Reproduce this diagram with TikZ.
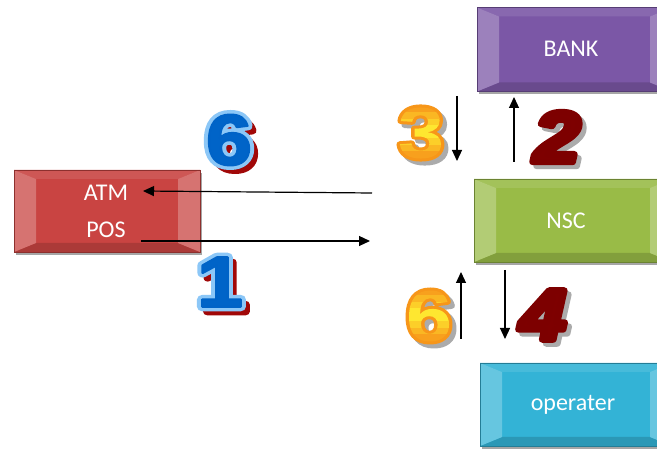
\documentclass[tikz,border=0pt]{standalone}
\usepackage{fontspec}
\setmainfont{Carlito}
\newfontfamily\numfont{Liberation Sans}
\usetikzlibrary{arrows.meta,shadows}
\definecolor{boxred}{HTML}{C94442}
\definecolor{boxpurple}{HTML}{7B57A6}
\definecolor{boxgreen}{HTML}{99BB47}
\definecolor{boxcyan}{HTML}{33B3D6}
\definecolor{nblue}{HTML}{0064C8}
\definecolor{lblue}{HTML}{8CC8F8}
\definecolor{shred}{HTML}{A00808}
\definecolor{dred}{HTML}{7E0000}
\definecolor{norange}{HTML}{F7961A}
\definecolor{shgray}{HTML}{ABABAB}
\tikzset{
  bevelbox/.style={rectangle, fill=#1, draw=#1!70!black, line width=0.6pt, inner sep=0pt,
    drop shadow={shadow xshift=2pt, shadow yshift=-3pt, opacity=0.35, fill=black},
    path picture={
      \fill[#1!90!white] (path picture bounding box.north west) -- (path picture bounding box.north east)
        -- ([xshift=-22pt,yshift=-9pt]path picture bounding box.north east)
        -- ([xshift=22pt,yshift=-9pt]path picture bounding box.north west) -- cycle;
      \fill[#1!85!black] (path picture bounding box.south west) -- (path picture bounding box.south east)
        -- ([xshift=-22pt,yshift=9pt]path picture bounding box.south east)
        -- ([xshift=22pt,yshift=9pt]path picture bounding box.south west) -- cycle;
      \fill[#1!75!white] (path picture bounding box.north west)
        -- ([xshift=22pt,yshift=-9pt]path picture bounding box.north west)
        -- ([xshift=22pt,yshift=9pt]path picture bounding box.south west)
        -- (path picture bounding box.south west) -- cycle;
      \fill[#1!75!white] (path picture bounding box.north east)
        -- ([xshift=-22pt,yshift=-9pt]path picture bounding box.north east)
        -- ([xshift=-22pt,yshift=9pt]path picture bounding box.south east)
        -- (path picture bounding box.south east) -- cycle;
    }},
  boxtxt/.style={text=white, font=\fontsize{24}{24}\selectfont, inner sep=0pt},
  numtxt/.style={font=\numfont\bfseries\fontsize{72}{72}\selectfont, inner sep=0pt},
  numital/.style={font=\numfont\bfseries\itshape\fontsize{72}{72}\selectfont, inner sep=0pt},
  arr/.style={line width=1.2pt, -{Triangle[length=11pt,width=10pt]}},
}
% #1 text, #2 stroke width, #3 stroke colour (rgb triple)
\newcommand\heavytxt[3]{\special{pdf:literal direct q 2 Tr #2 w 1 j #3 RG}\scalebox{1.15}[1]{#1}\special{pdf:literal direct Q}}
% glyph used as a clip, filled with orange-yellow-orange bands
\newcommand\gradtxt[1]{\scalebox{1.15}[1]{\special{pdf:literal direct q 7 Tr}#1\special{pdf:literal
 0.974 0.626 0.112 rg -46 -2 50 8.5 re f
 0.981 0.719 0.138 rg -46 6.5 50 6.6 re f
 0.989 0.811 0.162 rg -46 13 50 6.6 re f
 0.996 0.904 0.188 rg -46 19.5 50 6.6 re f
 0.996 0.904 0.188 rg -46 26 50 6.6 re f
 0.989 0.811 0.162 rg -46 32.5 50 6.6 re f
 0.981 0.719 0.138 rg -46 39 50 6.6 re f
 0.974 0.626 0.112 rg -46 45.5 50 10 re f}\special{pdf:literal direct Q}}}
\newcommand\bluenum[4]{%
  \node[numtxt, text=shred] at ([shift={(5,5)}]#2,#3) {\heavytxt{#4}{7}{0.63 0.03 0.03}};
  \node[numtxt, text=lblue] at (#2,#3) {\heavytxt{#4}{9}{0.55 0.78 0.97}};
  \node[numtxt, text=nblue] (#1) at (#2,#3) {\heavytxt{#4}{2}{0 0.39 0.78}};
}
\newcommand\orgnum[4]{%
  \node[numtxt, text=shgray] at ([shift={(4,4)}]#2,#3) {\heavytxt{#4}{6}{0.67 0.67 0.67}};
  \node[numtxt, text=norange] (#1) at (#2,#3) {\heavytxt{#4}{6}{0.97 0.59 0.10}};
  \node[numtxt] at (#2,#3) {\gradtxt{#4}};
}
\newcommand\drednum[4]{%
  \node[numital, text=shgray] at ([shift={(4,4)}]#2,#3) {\heavytxt{#4}{6}{0.67 0.67 0.67}};
  \node[numital, text=dred] (#1) at (#2,#3) {\heavytxt{#4}{6}{0.49 0 0}};
}
\begin{document}
\begin{tikzpicture}[x=1pt,y=-1pt]
\clip (0,0) rectangle (657,449);
\fill[white] (0,0) rectangle (657,449);
% boxes
\node[bevelbox=boxred, minimum width=186pt, minimum height=82pt] (posbox) at (107,211) {};
\node[boxtxt] (atm) at (106,193) {ATM};
\node[boxtxt] (pos) at (106,230) {POS};
\node[bevelbox=boxpurple, minimum width=195pt, minimum height=84pt] (bank) at (574.5,49.5) {};
\node[boxtxt] (banktxt) at (571,49) {BANK};
\node[bevelbox=boxgreen, minimum width=198pt, minimum height=83pt] (nsc) at (573,220.5) {};
\node[boxtxt] (nsctxt) at (566,221) {NSC};
\node[bevelbox=boxcyan, minimum width=192pt, minimum height=83pt] (op) at (576,404.5) {};
\node[boxtxt] (optxt) at (573,405) {operater};
% horizontal arrows
\coordinate (r6s) at (372,193);
\coordinate (r6e) at (143,191);
\coordinate (r1s) at (141,241);
\coordinate (r1e) at (370,241);
\draw[arr] (r6s) -- (r6e);
\draw[arr] (r1s) -- (r1e);
% vertical arrows
\coordinate (v3s) at (457,96);
\coordinate (v3e) at (457,161);
\coordinate (v2s) at (514,162);
\coordinate (v2e) at (514,97);
\coordinate (v6s) at (461,339);
\coordinate (v6e) at (461,272);
\coordinate (v4s) at (505,270);
\coordinate (v4e) at (505,339);
\draw[arr] (v3s) -- (v3e);
\draw[arr] (v2s) -- (v2e);
\draw[arr] (v6s) -- (v6e);
\draw[arr] (v4s) -- (v4e);
% numbers
\bluenum{nsix}{229}{140}{6}
\bluenum{none}{220}{282}{1}
\orgnum{nthree}{421}{133}{3}
\drednum{ntwo}{557}{137}{2}
\orgnum{nsixb}{429}{316}{6}
\drednum{nfour}{543}{315}{4}
\end{tikzpicture}
\end{document}
